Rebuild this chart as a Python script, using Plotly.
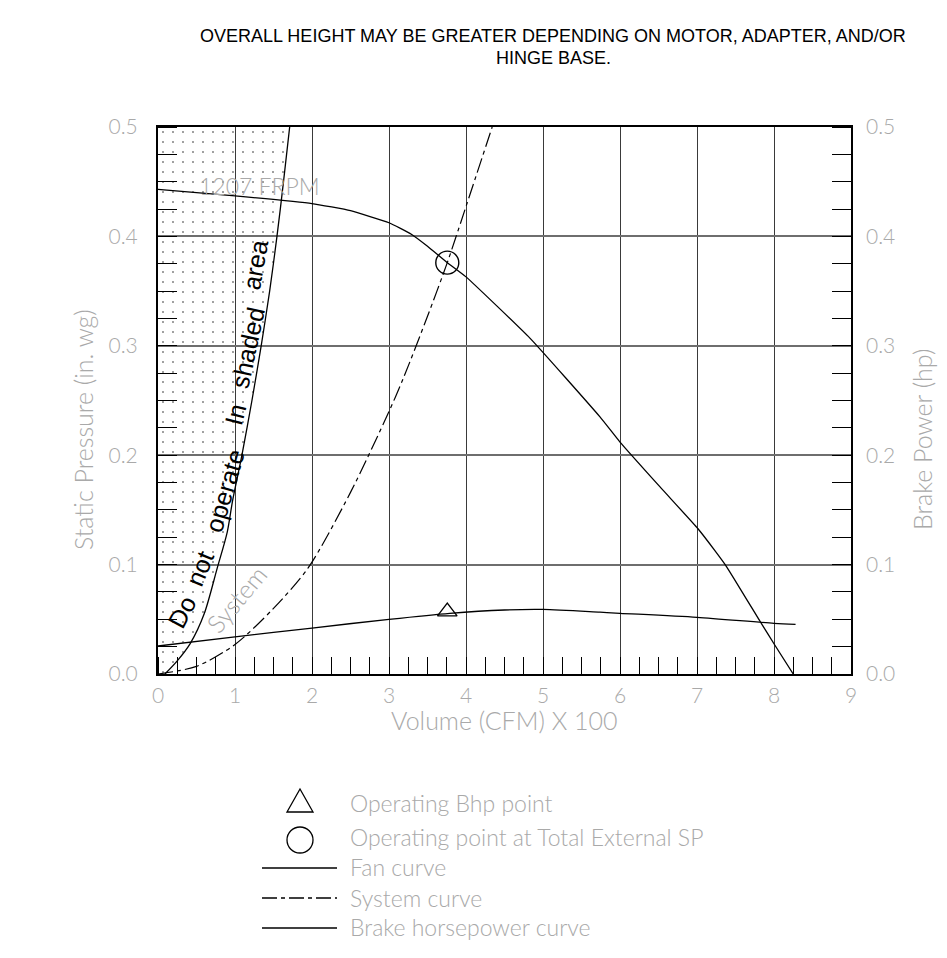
import plotly.graph_objects as go

# fan performance, static pressure (in. wg) vs volume (CFM x 100)
fan_x = [0, 1, 2, 2.5, 3, 3.29, 3.5, 3.757, 4, 4.83, 5.74, 6, 6.52, 7.01, 7.23, 7.385, 7.82, 8.01, 8.25]
fan_y = [0.443, 0.437, 0.430, 0.4235, 0.4125, 0.402, 0.391, 0.376, 0.363, 0.307, 0.235, 0.212, 0.171,
         0.133, 0.113, 0.098, 0.048, 0.0265, 0.0]

sys_x = [0, 0.5, 1, 1.5, 1.95, 2.5, 3, 3.19, 3.5, 3.757, 3.9, 4.34]
sys_y = [0, 0.007, 0.027, 0.06, 0.097, 0.166, 0.24, 0.271, 0.327, 0.376, 0.406, 0.5]

bhp_x = [0, 1, 2, 3, 3.79, 4.5, 5, 5.74, 6, 7, 8, 8.28]
bhp_y = [0.0256, 0.034, 0.042, 0.050, 0.0555, 0.0585, 0.059, 0.0565, 0.0555, 0.0518, 0.0463, 0.0454]

# stall line - don't run left of it
surge_x = [0.09, 0.25, 0.42, 0.6, 0.77, 0.9, 0.97, 1.09, 1.22, 1.34, 1.45, 1.545, 1.63, 1.71]
surge_y = [0, 0.012, 0.028, 0.055, 0.097, 0.13, 0.159, 0.2, 0.25, 0.3, 0.35, 0.4, 0.45, 0.5]

op_sp_x, op_sp_y = [3.757], [0.376]
op_bhp_x, op_bhp_y = [3.757], [0.057]

x_ticks = [0, 1, 2, 3, 4, 5, 6, 7, 8, 9]
x_labels = [str(v) for v in x_ticks]
y_ticks = [0.0, 0.1, 0.2, 0.3, 0.4, 0.5]
y_labels = ['0.0', '0.1', '0.2', '0.3', '0.4', '0.5']

# warning text, one word at a time so it can bend along the stall line
warn_words = ['Do', 'not', 'operate', 'In', 'shaded', 'area']
warn_x = [0.31, 0.545, 0.87, 1.0, 1.165, 1.26]
warn_y = [0.0567, 0.0969, 0.168, 0.237, 0.298, 0.374]
warn_ang = [-62, -68, -74, -76, -78, -80]

legend_labels = ['Operating Bhp point', 'Operating point at Total External SP',
                 'Fan curve', 'System curve', 'Brake horsepower curve']

GRAY = '#a9a9a9'
FAM = 'Lato, Liberation Sans, sans-serif'
TICKF = dict(family=FAM, size=21, color=GRAY, weight=300)
TITLEF = dict(family=FAM, size=25, color=GRAY, weight=300)
LEGF = dict(family=FAM, size=23, color=GRAY, weight=300)
DASHDOT = '15px,4px,4px,4px'

# plot area in pixels, used to place stuff in the margins
PL, PR, PT, PB = 158, 851, 127, 674


def px(x, y):
    return (x - PL) / (PR - PL), (PB - y) / (PB - PT)


fig = go.Figure()

fig.add_trace(go.Scatter(
    x=[0] + surge_x + [0], y=[0] + surge_y + [0.5],
    mode='lines', fill='toself',
    line=dict(width=0, color='rgba(0,0,0,0)'),
    fillcolor='rgba(255,255,255,0)',
    fillpattern=dict(shape='.', fgcolor='black', bgcolor='rgba(255,255,255,0)',
                     size=10, solidity=0.03),
    hoverinfo='skip', showlegend=False,
))
fig.add_trace(go.Scatter(
    x=surge_x, y=surge_y, mode='lines',
    line=dict(color='black', width=1.3, shape='spline', smoothing=0.8),
    showlegend=False,
))
fig.add_trace(go.Scatter(
    x=fan_x, y=fan_y, mode='lines', name='Fan curve',
    line=dict(color='black', width=1.3, shape='spline', smoothing=0.4),
    showlegend=False,
))
fig.add_trace(go.Scatter(
    x=sys_x, y=sys_y, mode='lines', name='System curve',
    line=dict(color='black', width=1.2, dash=DASHDOT, shape='spline', smoothing=0.8),
    showlegend=False,
))
fig.add_trace(go.Scatter(
    x=op_sp_x, y=op_sp_y, mode='markers',
    marker=dict(symbol='circle-open', size=23, color='black', line=dict(width=1.4)),
    showlegend=False,
))
fig.add_trace(go.Scatter(
    x=bhp_x, y=bhp_y, mode='lines', yaxis='y2', name='Brake horsepower curve',
    line=dict(color='black', width=1.3, shape='spline', smoothing=0.8),
    showlegend=False,
))
fig.add_trace(go.Scatter(
    x=op_bhp_x, y=op_bhp_y, mode='markers', yaxis='y2',
    marker=dict(symbol='triangle-up-open', size=17, color='black', line=dict(width=1.3)),
    showlegend=False,
))

minor_y = dict(tickmode='linear', tick0=0, dtick=0.025, ticks='inside', ticklen=19,
               tickwidth=1.4, tickcolor='black', showgrid=False)

fig.update_layout(
    width=947, height=958, autosize=False,
    margin=dict(l=PL, r=947 - PR, t=PT, b=958 - PB),
    paper_bgcolor='white', plot_bgcolor='white',
    showlegend=False,
    xaxis=dict(
        range=[0, 9], tickvals=x_ticks, ticktext=x_labels, ticks='',
        tickfont=TICKF, ticklabelstandoff=2,
        showgrid=True, gridcolor='#3a3a3a', gridwidth=1.4, zeroline=False,
        showline=True, mirror=True, linecolor='black', linewidth=2,
        minor=dict(tickmode='linear', tick0=0, dtick=0.25, ticks='inside', ticklen=17,
                   tickwidth=1.4, tickcolor='black', showgrid=False),
    ),
    yaxis=dict(
        range=[0, 0.5], tickvals=y_ticks, ticktext=y_labels, ticks='',
        tickfont=TICKF, ticklabelstandoff=14,
        showgrid=True, gridcolor='#6e6e6e', gridwidth=1.8, zeroline=False,
        showline=True, mirror=True, linecolor='black', linewidth=2,
        minor=minor_y,
    ),
    yaxis2=dict(
        range=[0, 0.5], tickvals=y_ticks, ticktext=y_labels, ticks='',
        overlaying='y', side='right', anchor='x',
        tickfont=TICKF, ticklabelstandoff=14,
        showgrid=False, zeroline=False, showline=False,
        minor=minor_y,
    ),
)

ann = []
head = ['OVERALL HEIGHT MAY BE GREATER DEPENDING ON MOTOR, ADAPTER, AND/OR', 'HINGE BASE.']
for line, hy in zip(head, [36, 58]):
    tx, ty = px(553, hy)
    ann.append(dict(x=tx, y=ty, xref='paper', yref='paper', showarrow=False, text=line,
                    font=dict(family='Liberation Sans, Arial', size=18, color='black'),
                    xanchor='center', yanchor='middle'))
tx, ty = px(505, 720)
ann.append(dict(x=tx, y=ty, xref='paper', yref='paper', showarrow=False,
                text='Volume (CFM) X 100', font=TITLEF, xanchor='center', yanchor='middle'))
tx, ty = px(83, 430)
ann.append(dict(x=tx, y=ty, xref='paper', yref='paper', showarrow=False, textangle=-90,
                text='Static Pressure (in. wg)', font=TITLEF, xanchor='center', yanchor='middle'))
tx, ty = px(922, 439)
ann.append(dict(x=tx, y=ty, xref='paper', yref='paper', showarrow=False, textangle=-90,
                text='Brake Power (hp)', font=TITLEF, xanchor='center', yanchor='middle'))

# labels inside the plot
ann.append(dict(x=1.32, y=0.446, xref='x', yref='y', showarrow=False,
                text='1207 FRPM', font=LEGF, xanchor='center', yanchor='middle'))
ann.append(dict(x=1.01, y=0.069, xref='x', yref='y', showarrow=False, textangle=-50,
                text='System', font=TITLEF, xanchor='center', yanchor='middle'))
for w, wx, wy, wa in zip(warn_words, warn_x, warn_y, warn_ang):
    ann.append(dict(x=wx, y=wy, xref='x', yref='y', showarrow=False, textangle=wa,
                    text=w, font=dict(family='Liberation Sans, Arial', size=25, color='black'),
                    xanchor='center', yanchor='middle'))

# legend
rows_y = [803, 837, 867, 898, 927]
for lab, ry in zip(legend_labels, rows_y):
    tx, ty = px(348, ry)
    ann.append(dict(x=tx, y=ty, xref='paper', yref='paper', showarrow=False, text=lab,
                    font=LEGF, xanchor='left', yanchor='middle'))
fig.update_layout(annotations=ann)

shapes = []
a = px(300, 789); b = px(287, 812); c = px(313, 812)
shapes.append(dict(type='path', xref='paper', yref='paper',
                   path=f'M {a[0]},{a[1]} L {b[0]},{b[1]} L {c[0]},{c[1]} Z',
                   line=dict(color='black', width=1.3)))
c0 = px(287, 827); c1 = px(313, 853)
shapes.append(dict(type='circle', xref='paper', yref='paper',
                   x0=c0[0], y0=c1[1], x1=c1[0], y1=c0[1],
                   line=dict(color='black', width=1.3)))
for ry, dash in [(868, 'solid'), (898, DASHDOT), (928, 'solid')]:
    l0 = px(262, ry); l1 = px(337, ry)
    shapes.append(dict(type='line', xref='paper', yref='paper',
                       x0=l0[0], y0=l0[1], x1=l1[0], y1=l1[1],
                       line=dict(color='black', width=1.3, dash=dash)))
fig.update_layout(shapes=shapes)

fig.write_html("out.html", config={'displayModeBar': False},
               post_script="document.body.style.margin='0';")
